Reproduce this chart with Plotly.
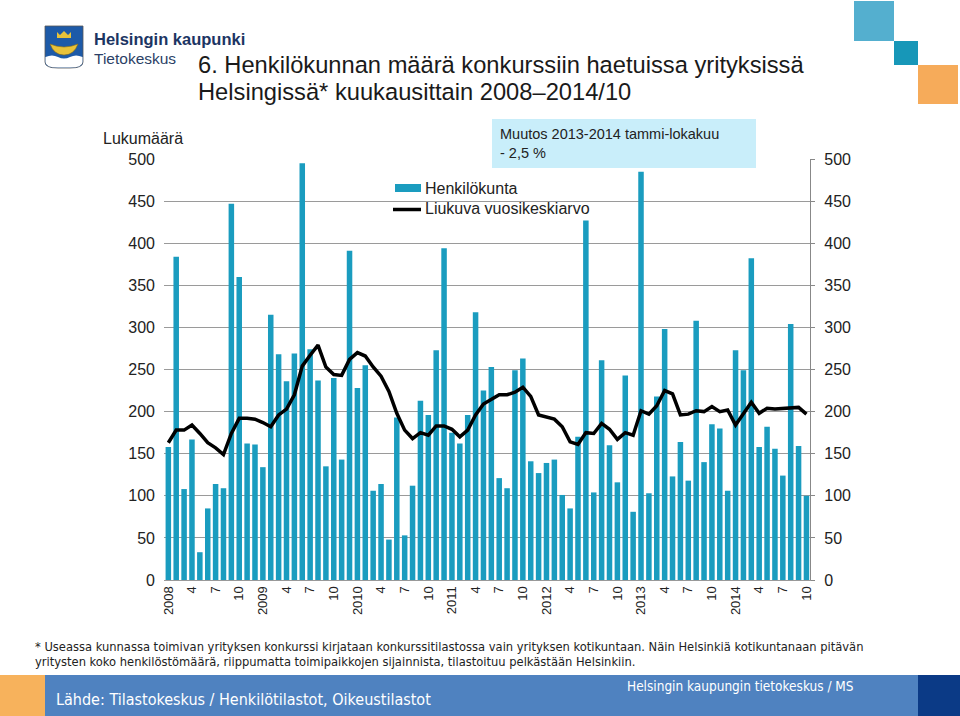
import plotly.graph_objects as go

# ---------------- data ----------------
years = [2008, 2009, 2010, 2011, 2012, 2013, 2014]
month_labels = []
for y in years:
    for m in range(1, 13):
        if y == 2014 and m > 10:
            break
        month_labels.append(f"{y}-{m:02d}")

henkilokunta = [
    158, 384, 108, 167, 33, 85, 114, 109, 447, 360, 162, 161,   # 2008
    134, 315, 268, 236, 269, 495, 274, 237, 135, 240, 143, 391,  # 2009
    228, 255, 106, 114, 48, 193, 53, 112, 213, 196, 273, 394,    # 2010
    175, 162, 196, 318, 225, 253, 121, 109, 249, 263, 141, 127,  # 2011
    139, 143, 101, 85, 170, 427, 104, 261, 160, 116, 243, 81,    # 2012
    485, 103, 218, 298, 123, 164, 118, 308, 140, 185, 180, 106,  # 2013
    273, 249, 382, 158, 182, 156, 124, 304, 159, 100,            # 2014
]
liukuva = [
    163, 178, 178, 184, 174, 163, 157, 149, 174, 192, 192, 191,
    187, 182, 196, 203, 220, 254, 267, 279, 253, 244, 243, 262,
    270, 266, 253, 242, 224, 198, 178, 168, 175, 172, 183, 183,
    179, 170, 178, 196, 209, 214, 220, 220, 223, 229, 218, 196,
    193, 191, 182, 164, 161, 175, 174, 186, 179, 167, 175, 172,
    201, 197, 207, 225, 221, 196, 197, 201, 200, 206, 200, 202,
    184, 198, 211, 198, 204, 203, 204, 204, 205, 197,
]
series_names = ["Henkilökunta", "Liukuva vuosikeskiarvo"]
tick_idx = list(range(0, len(month_labels), 3))
tick_text = []
for i in tick_idx:
    y, m = month_labels[i].split("-")
    tick_text.append(y if m == "01" else str(int(m)))

y_ticks = list(range(0, 501, 50))

# ---------------- layout geometry helpers ----------------
W, H = 960, 716
L, R, T, B = 164, 810, 159, 580


def px(x):
    return (x - L) / (R - L)


def py(y):
    return (B - y) / (B - T)


FONT = "Liberation Sans, Arial, sans-serif"
NARROW = "Liberation Sans Narrow, Arial Narrow, DejaVu Sans Condensed, sans-serif"
BAR = "#1a9cbf"

x = list(range(len(month_labels)))

fig = go.Figure()
fig.add_trace(go.Bar(x=x, y=henkilokunta, name=series_names[0],
                     marker=dict(color=BAR, line=dict(width=0)),
                     hovertext=month_labels, showlegend=False))
fig.add_trace(go.Scatter(x=x, y=liukuva, name=series_names[1],
                         mode="lines", line=dict(color="black", width=3.5),
                         yaxis="y2", hovertext=month_labels, showlegend=False))

shapes = []
# legend white background
shapes.append(dict(type="rect", xref="paper", yref="paper", x0=px(372), x1=px(608),
                   y0=py(224), y1=py(176), fillcolor="white", line=dict(width=0), layer="between"))
# legend swatches
shapes.append(dict(type="rect", xref="paper", yref="paper", x0=px(395), x1=px(421),
                   y0=py(192), y1=py(184), fillcolor=BAR, line=dict(width=0), layer="above"))
shapes.append(dict(type="line", xref="paper", yref="paper", x0=px(393), x1=px(421),
                   y0=py(209.5), y1=py(209.5), line=dict(color="black", width=3.5), layer="above"))
# annotation box
shapes.append(dict(type="rect", xref="paper", yref="paper", x0=px(492), x1=px(756),
                   y0=py(168), y1=py(119), fillcolor="#c9eefa", line=dict(width=0), layer="between"))
# top-right decorative squares
shapes.append(dict(type="rect", xref="paper", yref="paper", x0=px(854), x1=px(894),
                   y0=py(41), y1=py(1), fillcolor="#54afcf", line=dict(width=0), layer="above"))
shapes.append(dict(type="rect", xref="paper", yref="paper", x0=px(894), x1=px(918),
                   y0=py(65), y1=py(41), fillcolor="#1797b8", line=dict(width=0), layer="above"))
shapes.append(dict(type="rect", xref="paper", yref="paper", x0=px(918), x1=px(958),
                   y0=py(104), y1=py(65), fillcolor="#f6ab5a", line=dict(width=0), layer="above"))
# footer band
shapes.append(dict(type="rect", xref="paper", yref="paper", x0=px(0), x1=px(45),
                   y0=py(716), y1=py(675), fillcolor="#f7b25c", line=dict(width=0), layer="above"))
shapes.append(dict(type="rect", xref="paper", yref="paper", x0=px(45), x1=px(918),
                   y0=py(716), y1=py(675), fillcolor="#4f82c0", line=dict(width=0), layer="above"))
shapes.append(dict(type="rect", xref="paper", yref="paper", x0=px(918), x1=px(960),
                   y0=py(716), y1=py(675), fillcolor="#0b3a86", line=dict(width=0), layer="above"))
# logo shield
shield = (f"M {px(45)},{py(26)} L {px(83)},{py(26)} L {px(83)},{py(62)} "
          f"Q {px(83)},{py(68)} {px(70)},{py(68)} L {px(58)},{py(68)} "
          f"Q {px(45)},{py(68)} {px(45)},{py(62)} Z")
shapes.append(dict(type="path", xref="paper", yref="paper", path=shield,
                   fillcolor="#1d5aa8", line=dict(color="#555", width=0.8), layer="above"))
wave = (f"M {px(45.5)},{py(57)} Q {px(52)},{py(54)} {px(58)},{py(57)} "
        f"Q {px(64)},{py(60)} {px(70)},{py(57)} Q {px(76)},{py(54)} {px(82.5)},{py(57)} "
        f"L {px(82.5)},{py(62)} Q {px(82.5)},{py(67.5)} {px(70)},{py(67.5)} L {px(58)},{py(67.5)} "
        f"Q {px(45.5)},{py(67.5)} {px(45.5)},{py(62)} Z")
shapes.append(dict(type="path", xref="paper", yref="paper", path=wave,
                   fillcolor="white", line=dict(width=0), layer="above"))
boat = (f"M {px(50)},{py(44)} Q {px(64)},{py(50)} {px(78)},{py(44)} "
        f"Q {px(74)},{py(55)} {px(64)},{py(55)} Q {px(54)},{py(55)} {px(50)},{py(44)} Z")
shapes.append(dict(type="path", xref="paper", yref="paper", path=boat,
                   fillcolor="#e8c23a", line=dict(color="#8a6d10", width=0.6), layer="above"))
crown = (f"M {px(57)},{py(38)} L {px(57)},{py(32)} L {px(60)},{py(35)} L {px(64)},{py(31)} "
         f"L {px(68)},{py(35)} L {px(71)},{py(32)} L {px(71)},{py(38)} Z")
shapes.append(dict(type="path", xref="paper", yref="paper", path=crown,
                   fillcolor="#e8c23a", line=dict(width=0), layer="above"))

annotations = []


def txt(text, x, y, size, color="#222", family=FONT, xanchor="left", yanchor="middle", **kw):
    annotations.append(dict(text=text, x=px(x), y=py(y), xref="paper", yref="paper",
                            xanchor=xanchor, yanchor=yanchor, showarrow=False,
                            font=dict(size=size, color=color, family=family), align="left", **kw))


txt("<b>Helsingin kaupunki</b>", 92, 39, 16.5, color="#1c3563")
txt("Tietokeskus", 92, 58, 15.5, color="#2b3f66")
txt("6. Henkilökunnan määrä konkurssiin haetuissa yrityksissä", 196, 65, 23.7, color="#1a1a1a")
txt("Helsingissä* kuukausittain 2008–2014/10", 196, 92, 23.7, color="#1a1a1a")
txt("Lukumäärä", 101, 138, 16)
txt("Muutos 2013-2014 tammi-lokakuu<br>- 2,5 %", 498, 143, 14.5)
txt(series_names[0], 423, 188, 16)
txt(series_names[1], 423, 209, 16)
txt("* Useassa kunnassa toimivan yrityksen konkurssi kirjataan konkurssitilastossa vain yrityksen "
    "kotikuntaan. Näin Helsinkiä kotikuntanaan pitävän", 33, 646, 12.8, family=NARROW)
txt("yritysten koko henkilöstömäärä, riippumatta toimipaikkojen sijainnista, tilastoituu pelkästään Helsinkiin.",
    33, 661, 12.8, family=NARROW)
txt("Lähde: Tilastokeskus / Henkilötilastot, Oikeustilastot", 54, 699, 16, color="white", family=NARROW)
txt("Helsingin kaupungin tietokeskus / MS", 856, 686, 13.5, color="white", family=NARROW, xanchor="right")

fig.update_layout(
    width=W, height=H,
    margin=dict(l=L, r=W - R, t=T, b=H - B, pad=0),
    paper_bgcolor="white", plot_bgcolor="white",
    font=dict(family=FONT, size=16, color="#222"),
    bargap=0.3,
    showlegend=False,
    xaxis=dict(range=[-0.55, 81.45], tickmode="array", tickvals=tick_idx, ticktext=tick_text,
               tickangle=-90, tickfont=dict(size=13, color="#222"), showgrid=False,
               showline=True, linecolor="#999", linewidth=1, ticks="", zeroline=False),
    yaxis=dict(range=[0, 500], tickvals=y_ticks, showgrid=True, gridcolor="#9a9a9a", gridwidth=1,
               showline=False, ticks="", ticklabelstandoff=8, zeroline=False,
               tickfont=dict(size=16, color="#222")),
    yaxis2=dict(range=[0, 500], tickvals=y_ticks, overlaying="y", side="right", showgrid=False,
                showline=True, linecolor="#888", linewidth=1.2, ticks="outside", ticklen=4,
                tickcolor="#888", ticklabelstandoff=6, zeroline=False,
                tickfont=dict(size=16, color="#222")),
    shapes=shapes,
    annotations=annotations,
)

fig.write_html("out.html", config={"displayModeBar": False},
               post_script="document.body.style.margin='0';document.body.style.overflow='hidden';")
